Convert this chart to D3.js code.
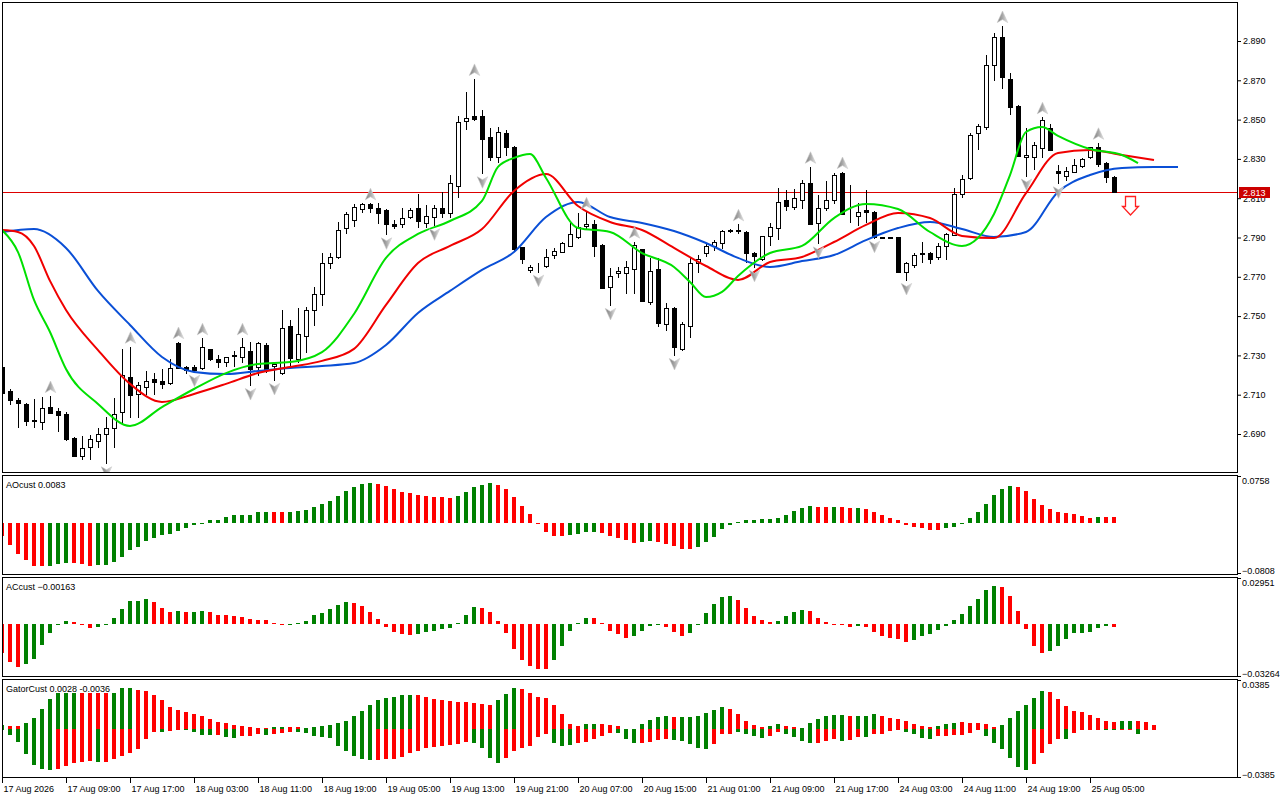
<!DOCTYPE html>
<html>
<head>
<meta charset="utf-8">
<script src="https://cdn.jsdelivr.net/npm/d3@7"></script>
<style>
  body { margin: 0; background: #fff; }
  text { font-family: "Liberation Sans", Arial, sans-serif; font-size: 9px; fill: #000; }
</style>
</head>
<body>
<svg id="chart" width="1280" height="800"></svg>
<script>
// ---- price bars (H1) ----
const opens = [2.7243,2.7119,2.7073,2.7053,2.6971,2.6960,2.7039,2.7019,2.7002,2.6878,
  2.6790,2.6835,2.6866,2.6898,2.6929,2.7010,2.7189,2.7104,2.7138,2.7178,
  2.7168,2.7158,2.7362,2.7241,2.7239,2.7237,2.7331,2.7280,2.7268,2.7302,
  2.7290,2.7321,2.7239,2.7353,2.7246,2.7209,2.7450,2.7280,2.7399,2.7531,
  2.7611,2.7769,2.7799,2.7947,2.7989,2.8045,2.8069,2.8049,2.8040,2.7969,
  2.7967,2.8006,2.8049,2.7975,2.8006,2.8049,2.8026,2.8164,2.8494,2.8518,
  2.8518,2.8410,2.8308,2.8430,2.8359,2.7850,2.7735,2.7753,2.7757,2.7809,
  2.7828,2.7858,2.7904,2.7959,2.7967,2.7862,2.7647,2.7721,2.7718,2.7738,
  2.7840,2.7570,2.7738,2.7458,2.7543,2.7333,2.7450,2.7772,2.7820,2.7858,
  2.7870,2.7933,2.7935,2.7930,2.7820,2.7789,2.7908,2.7947,2.8091,2.8057,
  2.8091,2.8176,2.7975,2.8049,2.8091,2.8230,2.8018,2.8009,2.8040,2.8031,
  2.7901,2.7899,2.7901,2.7726,2.7760,2.7818,2.7820,2.7799,2.7858,2.7913,
  2.8120,2.8201,2.8430,2.8461,2.8778,2.8919,2.8707,2.8569,2.8308,2.8308,
  2.8357,2.8459,2.8238,2.8215,2.8235,2.8265,2.8308,2.8359,2.8278,2.8206];
const highs = [2.7251,2.7127,2.7085,2.7058,2.7077,2.7087,2.7093,2.7031,2.7010,2.6886,
  2.6890,2.6895,2.6929,2.6988,2.7082,2.7331,2.7344,2.7166,2.7221,2.7209,
  2.7231,2.7280,2.7368,2.7246,2.7251,2.7387,2.7333,2.7302,2.7290,2.7324,
  2.7387,2.7367,2.7370,2.7362,2.7261,2.7531,2.7480,2.7543,2.7548,2.7647,
  2.7820,2.7820,2.7977,2.8028,2.8070,2.8074,2.8074,2.8074,2.8045,2.7989,
  2.8049,2.8049,2.8121,2.8065,2.8064,2.8130,2.8218,2.8518,2.8639,2.8707,
  2.8549,2.8456,2.8464,2.8447,2.8366,2.7854,2.7760,2.7769,2.7840,2.7845,
  2.7879,2.7975,2.8023,2.8028,2.7989,2.7867,2.7743,2.7751,2.7780,2.7879,
  2.7841,2.7794,2.7794,2.7565,2.7546,2.7472,2.7802,2.7811,2.7870,2.7887,
  2.7938,2.7941,2.7967,2.7933,2.7826,2.7908,2.7972,2.8153,2.8142,2.8145,
  2.8193,2.8260,2.8116,2.8188,2.8227,2.8233,2.8167,2.8074,2.8142,2.8035,
  2.7905,2.7903,2.7903,2.7777,2.7820,2.7879,2.7826,2.7870,2.7921,2.8150,
  2.8218,2.8433,2.8476,2.8829,2.8942,2.8976,2.8736,2.8572,2.8459,2.8388,
  2.8512,2.8478,2.8269,2.8260,2.8298,2.8303,2.8362,2.8382,2.8286,2.8215];
const lows = [2.7098,2.7051,2.6937,2.6946,2.6934,2.6925,2.7007,2.6917,2.6872,2.6788,
  2.6773,2.6773,2.6835,2.6751,2.6835,2.6963,2.6988,2.6988,2.7104,2.7104,
  2.7136,2.7155,2.7236,2.7209,2.7217,2.7229,2.7277,2.7243,2.7246,2.7246,
  2.7268,2.7149,2.7200,2.7217,2.7175,2.7205,2.7243,2.7268,2.7319,2.7455,
  2.7557,2.7743,2.7796,2.7921,2.7959,2.8031,2.8031,2.7975,2.7916,2.7947,
  2.7955,2.7998,2.7955,2.7955,2.7962,2.8006,2.8006,2.8108,2.8452,2.8500,
  2.8227,2.8294,2.8286,2.8320,2.7836,2.7769,2.7726,2.7726,2.7748,2.7794,
  2.7828,2.7858,2.7899,2.7943,2.7807,2.7645,2.7557,2.7701,2.7619,2.7619,
  2.7578,2.7562,2.7450,2.7429,2.7302,2.7330,2.7395,2.7726,2.7806,2.7836,
  2.7845,2.7928,2.7921,2.7777,2.7751,2.7786,2.7862,2.7891,2.8040,2.8044,
  2.8049,2.7967,2.7870,2.8040,2.8074,2.8018,2.7980,2.7964,2.7980,2.7899,
  2.7897,2.7896,2.7726,2.7684,2.7751,2.7777,2.7769,2.7789,2.7789,2.7913,
  2.8108,2.8196,2.8349,2.8451,2.8702,2.8659,2.8527,2.8315,2.8215,2.8247,
  2.8308,2.8343,2.8176,2.8193,2.8235,2.8260,2.8303,2.8264,2.8184,2.8130];
const closes = [2.7107,2.7073,2.7059,2.6968,2.6968,2.7031,2.7008,2.6998,2.6875,2.6790,
  2.6830,2.6876,2.6898,2.6929,2.7000,2.7200,2.7100,2.7148,2.7168,2.7166,
  2.7155,2.7237,2.7236,2.7227,2.7227,2.7341,2.7280,2.7268,2.7290,2.7299,
  2.7341,2.7229,2.7362,2.7226,2.7254,2.7438,2.7288,2.7407,2.7531,2.7611,
  2.7769,2.7799,2.7938,2.8018,2.8057,2.8069,2.8049,2.8026,2.7967,2.7957,
  2.7998,2.8040,2.7986,2.8009,2.8049,2.8026,2.8176,2.8486,2.8507,2.8503,
  2.8400,2.8308,2.8435,2.8359,2.7840,2.7789,2.7748,2.7757,2.7799,2.7831,
  2.7870,2.7916,2.7955,2.7967,2.7858,2.7645,2.7706,2.7731,2.7748,2.7862,
  2.7578,2.7730,2.7466,2.7540,2.7341,2.7458,2.7769,2.7789,2.7858,2.7879,
  2.7935,2.7936,2.7937,2.7820,2.7807,2.7908,2.7955,2.8082,2.8060,2.8100,
  2.8176,2.7967,2.8049,2.8091,2.8218,2.8018,2.8020,2.8028,2.8028,2.7901,
  2.7899,2.7901,2.7726,2.7769,2.7811,2.7821,2.7789,2.7858,2.7916,2.8120,
  2.8196,2.8422,2.8467,2.8778,2.8919,2.8715,2.8566,2.8316,2.8320,2.8371,
  2.8498,2.8345,2.8227,2.8238,2.8269,2.8298,2.8362,2.8274,2.8206,2.8130];
const lastPrice = 2.813;

// ---- alligator lines (bar index, price) ----
const jawBars = [0,4,8,12,16,20,24,28,32,36,40,44,48,52,56,60,64,68,72,76,80,84,88,92,96,100,104,108,112,116,120,124,128,132,136,140,144,147];
const jawVals = [2.7928,2.7943,2.7847,2.7628,2.7455,2.7292,2.7216,2.7205,2.7221,2.7236,
  2.7246,2.7261,2.7353,2.7516,2.7628,2.7735,2.7826,2.8004,2.8081,2.8004,
  2.7974,2.7933,2.7872,2.7796,2.7750,2.7780,2.7811,2.7887,2.7948,2.7979,
  2.7943,2.7903,2.7928,2.8132,2.8218,2.8254,2.8259,2.8259];
const teethBars = [0,2,4,6,8,12,16,20,24,28,32,36,40,44,48,52,56,60,64,68,72,76,80,84,88,92,96,100,104,108,112,116,120,124,128,132,136,140,144];
const teethVals = [2.7938,2.7928,2.7857,2.7679,2.7531,2.7327,2.7155,2.7063,2.7104,2.7155,
  2.7210,2.7241,2.7272,2.7333,2.7557,2.7770,2.7857,2.7943,2.8137,2.8223,
  2.8060,2.7979,2.7938,2.7847,2.7755,2.7684,2.7775,2.7801,2.7877,2.7964,
  2.8025,2.7999,2.7908,2.7897,2.8126,2.8330,2.8345,2.8320,2.8294];
const lipsBars = [0,2,4,6,8,12,16,20,24,28,32,36,40,44,48,52,56,60,62,64,66,68,72,76,80,84,86,88,90,92,96,100,104,108,112,116,120,124,126,128,130,132,136,140,142];
const lipsVals = [2.7938,2.7826,2.7582,2.7419,2.7231,2.7053,2.6941,2.7037,2.7129,2.7210,
  2.7256,2.7266,2.7317,2.7511,2.7796,2.7918,2.7984,2.8086,2.8259,2.8305,
  2.8325,2.8203,2.7948,2.7928,2.7821,2.7750,2.7674,2.7597,2.7623,2.7704,
  2.7821,2.7857,2.7999,2.8071,2.8045,2.7928,2.7857,2.8020,2.8218,2.8437,
  2.8462,2.8417,2.8350,2.8320,2.8279];

// ---- fractals and signal ----
const upFractals = [6,16,22,25,30,46,59,73,79,92,101,105,125,130,137];
const downFractals = [13,24,31,34,48,54,60,67,76,84,94,102,109,113,128,132];
const sellBar = 141, sellPrice = 2.8111;

// ---- AO ----
const aoVals = [-0.0219,-0.0351,-0.0495,-0.0591,-0.0682,-0.0682,-0.0687,-0.0655,-0.0644,-0.0644,
  -0.0655,-0.0682,-0.0666,-0.0666,-0.0618,-0.0538,-0.0442,-0.0379,-0.0299,-0.0240,
  -0.0196,-0.0181,-0.0128,-0.0091,-0.0037,-0.0016,0.0037,0.0048,0.0085,0.0117,
  0.0128,0.0128,0.0165,0.0165,0.0165,0.0165,0.0165,0.0181,0.0196,0.0244,
  0.0292,0.0351,0.0420,0.0500,0.0564,0.0607,0.0623,0.0607,0.0580,0.0543,
  0.0490,0.0479,0.0442,0.0427,0.0411,0.0411,0.0395,0.0427,0.0495,0.0570,
  0.0602,0.0623,0.0602,0.0532,0.0411,0.0267,0.0134,-0.0011,-0.0144,-0.0212,
  -0.0212,-0.0201,-0.0176,-0.0144,-0.0144,-0.0160,-0.0212,-0.0251,-0.0283,-0.0319,
  -0.0304,-0.0292,-0.0304,-0.0335,-0.0372,-0.0415,-0.0415,-0.0383,-0.0304,-0.0224,
  -0.0107,-0.0032,0.0011,0.0043,0.0043,0.0064,0.0064,0.0075,0.0123,0.0192,
  0.0235,0.0267,0.0251,0.0251,0.0251,0.0251,0.0235,0.0235,0.0219,0.0171,
  0.0123,0.0075,0.0043,-0.0032,-0.0064,-0.0080,-0.0112,-0.0112,-0.0091,-0.0064,
  -0.0016,0.0075,0.0171,0.0299,0.0442,0.0535,0.0586,0.0565,0.0506,0.0379,
  0.0283,0.0219,0.0171,0.0150,0.0139,0.0107,0.0075,0.0091,0.0091,0.0083];
const aoColorRuns = [['r',6],['g',3],['r',3],['g',22],['r',2],['g',11],['r',10],['g',5],['r',9],['g',4],['r',5],['g',2],
  ['r',5],['g',15],['r',2],['g',1],['r',2],['g',1],['r',10],['g',9],['r',10],['g',1],['r',2]];

// ---- AC ----
const acVals = [-0.0182,-0.0233,-0.0264,-0.0249,-0.0214,-0.0131,-0.0055,-0.0006,0.0023,0.0011,
  -0.0006,-0.0021,-0.0017,-0.0006,0.0038,0.0095,0.0146,0.0146,0.0159,0.0139,
  0.0101,0.0076,0.0082,0.0076,0.0076,0.0082,0.0076,0.0057,0.0057,0.0051,
  0.0044,0.0032,0.0025,0.0025,0.0008,-0.0004,0.0004,0.0006,0.0019,0.0057,
  0.0070,0.0095,0.0120,0.0139,0.0133,0.0114,0.0076,0.0032,-0.0017,-0.0051,
  -0.0061,-0.0070,-0.0063,-0.0051,-0.0044,-0.0032,-0.0025,0.0006,0.0057,0.0108,
  0.0101,0.0076,0.0019,-0.0057,-0.0152,-0.0222,-0.0260,-0.0279,-0.0279,-0.0222,
  -0.0133,-0.0044,0.0006,0.0038,0.0038,0.0006,-0.0044,-0.0063,-0.0089,-0.0076,
  -0.0044,-0.0013,-0.0006,-0.0019,-0.0051,-0.0076,-0.0057,-0.0004,0.0070,0.0127,
  0.0171,0.0178,0.0152,0.0101,0.0051,0.0025,0.0013,0.0019,0.0051,0.0076,
  0.0089,0.0082,0.0038,0.0013,-0.0002,-0.0002,-0.0017,-0.0013,-0.0017,-0.0051,
  -0.0076,-0.0089,-0.0095,-0.0108,-0.0101,-0.0076,-0.0063,-0.0038,-0.0013,0.0025,
  0.0063,0.0114,0.0159,0.0216,0.0241,0.0235,0.0178,0.0082,-0.0030,-0.0138,
  -0.0182,-0.0169,-0.0138,-0.0093,-0.0055,-0.0055,-0.0049,-0.0023,-0.0008,-0.00163];
const acColorRuns = [['r',3],['g',6],['r',3],['g',7],['r',3],['g',1],['r',1],['g',2],['r',10],['g',8],['r',8],['g',8],
  ['r',9],['g',5],['r',5],['g',4],['r',3],['g',6],['r',5],['g',4],['r',6],['g',1],['r',6],['g',11],['r',6],['g',8],['r',1]];

// ---- Gator ----
const gatorUp = [0.0024,0.0020,0.0016,0.0042,0.0084,0.0155,0.0226,0.0273,0.0273,0.0273,
  0.0273,0.0273,0.0273,0.0273,0.0273,0.0317,0.0317,0.0299,0.0291,0.0259,
  0.0220,0.0167,0.0147,0.0126,0.0112,0.0097,0.0076,0.0050,0.0042,0.0026,
  0.0016,0.0008,0.0004,0.0004,0.0008,0.0008,0.0008,0.0008,0.0004,0.0008,
  0.0016,0.0024,0.0045,0.0055,0.0097,0.0139,0.0181,0.0220,0.0241,0.0246,
  0.0259,0.0259,0.0259,0.0244,0.0228,0.0218,0.0212,0.0207,0.0204,0.0197,
  0.0189,0.0186,0.0220,0.0267,0.0317,0.0307,0.0273,0.0244,0.0236,0.0186,
  0.0110,0.0034,0.0018,0.0034,0.0034,0.0034,0.0026,0.0016,0.0000,0.0000,
  0.0034,0.0063,0.0089,0.0097,0.0089,0.0089,0.0089,0.0097,0.0120,0.0144,
  0.0167,0.0152,0.0112,0.0057,0.0026,0.0010,0.0018,0.0034,0.0018,0.0010,
  0.0004,0.0042,0.0073,0.0097,0.0105,0.0105,0.0097,0.0097,0.0097,0.0112,
  0.0097,0.0081,0.0073,0.0057,0.0034,0.0018,0.0010,0.0018,0.0034,0.0042,
  0.0050,0.0042,0.0042,0.0034,0.0010,0.0031,0.0081,0.0134,0.0186,0.0241,
  0.0291,0.0281,0.0233,0.0178,0.0139,0.0131,0.0108,0.0079,0.0061,0.0053,
  0.0061,0.0061,0.0061,0.0053,0.0028];
const gatorDown = [-0.0008,-0.0050,-0.0102,-0.0199,-0.0285,-0.0312,-0.0322,-0.0314,-0.0291,-0.0270,
  -0.0259,-0.0252,-0.0262,-0.0259,-0.0241,-0.0212,-0.0189,-0.0157,-0.0084,-0.0024,
  -0.0024,-0.0016,-0.0008,-0.0008,-0.0024,-0.0050,-0.0050,-0.0050,-0.0063,-0.0071,
  -0.0055,-0.0055,-0.0042,-0.0050,-0.0042,-0.0034,-0.0031,-0.0024,-0.0034,-0.0055,
  -0.0063,-0.0071,-0.0134,-0.0173,-0.0212,-0.0236,-0.0244,-0.0244,-0.0241,-0.0241,
  -0.0220,-0.0194,-0.0173,-0.0155,-0.0147,-0.0139,-0.0131,-0.0118,-0.0108,-0.0116,
  -0.0155,-0.0226,-0.0265,-0.0228,-0.0173,-0.0152,-0.0134,-0.0068,-0.0045,-0.0116,
  -0.0139,-0.0131,-0.0116,-0.0108,-0.0079,-0.0061,-0.0037,-0.0037,-0.0079,-0.0116,
  -0.0116,-0.0108,-0.0092,-0.0084,-0.0092,-0.0100,-0.0123,-0.0155,-0.0163,-0.0123,
  -0.0045,-0.0045,-0.0029,-0.0045,-0.0061,-0.0076,-0.0061,-0.0029,-0.0045,-0.0068,
  -0.0100,-0.0116,-0.0116,-0.0100,-0.0084,-0.0100,-0.0092,-0.0068,-0.0068,-0.0045,
  -0.0045,-0.0018,-0.0013,-0.0029,-0.0045,-0.0076,-0.0084,-0.0061,-0.0061,-0.0053,
  -0.0053,-0.0037,-0.0006,-0.0061,-0.0116,-0.0163,-0.0226,-0.0299,-0.0325,-0.0277,
  -0.0189,-0.0120,-0.0079,-0.0079,-0.0034,-0.0008,-0.0008,-0.0008,-0.0008,-0.0013,
  -0.0006,-0.0006,-0.0039,-0.0002,-0.0004];
const gatorUpRuns = [['g',1],['r',2],['g',7],['r',4],['g',3],['r',17],['g',2],['r',2],['g',14],['r',10],['g',3],['r',8],
  ['g',2],['r',4],['g',5],['r',1],['g',6],['r',5],['g',2],['r',2],['g',6],['r',1],['g',3],['r',7],['g',3],['r',5],
  ['g',6],['r',9],['g',2],['r',3]];
const gatorDownRuns = [['g',7],['r',5],['g',1],['r',7],['g',1],['r',2],['g',4],['r',1],['g',2],['r',3],['g',1],['r',3],
  ['g',10],['r',12],['g',4],['r',6],['g',3],['r',5],['g',3],['r',4],['g',5],['r',3],['g',4],['r',2],['g',4],['r',3],
  ['g',1],['r',2],['g',1],['r',4],['g',4],['r',6],['g',6],['r',4],['g',1],['r',4],['g',2],['r',2],['g',1],['r',2]];

// ---- axis labels ----
const priceTicks = [2.690,2.710,2.730,2.750,2.770,2.790,2.810,2.830,2.850,2.870,2.890];
const timeBars = [0,8,16,24,32,40,48,56,64,72,80,88,96,104,112,120,128,136];
const timeLabels = ["17 Aug 2026","17 Aug 09:00","17 Aug 17:00","18 Aug 03:00","18 Aug 11:00","18 Aug 19:00",
  "19 Aug 05:00","19 Aug 13:00","19 Aug 21:00","20 Aug 07:00","20 Aug 15:00","21 Aug 01:00",
  "21 Aug 09:00","21 Aug 17:00","24 Aug 03:00","24 Aug 11:00","24 Aug 19:00","25 Aug 05:00"];

// ------------------------------------------------------------
const GREEN = '#008000', RED = '#ff0000';
const colorOf = c => c === 'g' ? GREEN : RED;
const expand = runs => runs.flatMap(([c, n]) => Array(n).fill(c));

const svg = d3.select('#chart');
const left = 2, right = 1237;

const x = d3.scaleLinear().domain([0, 147]).range([2, 1178]);
const yPrice = d3.scaleLinear().domain([2.690, 2.890]).range([434, 41]);
const yAO = d3.scaleLinear().domain([-0.0808, 0.0758]).range([573.5, 475]);
const yAC = d3.scaleLinear().domain([-0.03264, 0.02951]).range([676.5, 577]);
const yGator = d3.scaleLinear().domain([-0.0385, 0.0385]).range([778, 679]);

const panels = [
  { id: 'main', top: 2, bottom: 473 },
  { id: 'ao', top: 475, bottom: 575 },
  { id: 'ac', top: 577, bottom: 677 },
  { id: 'gator', top: 679, bottom: 778 }
];

const defs = svg.append('defs');
panels.forEach(p => {
  defs.append('clipPath').attr('id', 'clip-' + p.id)
    .append('rect').attr('x', left).attr('y', p.top).attr('width', right - left).attr('height', p.bottom - p.top);
});
const grad = defs.append('linearGradient').attr('id', 'fracGrad').attr('x1', 0).attr('x2', 1).attr('y1', 0).attr('y2', 0);
grad.append('stop').attr('offset', '0%').attr('stop-color', '#7c7c7c');
grad.append('stop').attr('offset', '50%').attr('stop-color', '#a8a8a8');
grad.append('stop').attr('offset', '100%').attr('stop-color', '#e4e4e4');

const px = i => Math.round(x(i));

// ---- main panel ----
const main = svg.append('g').attr('clip-path', 'url(#clip-main)');

// current price line
main.append('line')
  .attr('x1', left).attr('x2', right)
  .attr('y1', Math.round(yPrice(lastPrice)) + 0.5).attr('y2', Math.round(yPrice(lastPrice)) + 0.5)
  .attr('stroke', '#dd0000').attr('stroke-width', 1);

const candles = opens.map((o, i) => ({ i, o, h: highs[i], l: lows[i], c: closes[i] }));

main.append('g').selectAll('line').data(candles).join('line')
  .attr('x1', d => px(d.i) + 0.5).attr('x2', d => px(d.i) + 0.5)
  .attr('y1', d => Math.round(yPrice(d.h))).attr('y2', d => Math.round(yPrice(d.l)) + 1)
  .attr('stroke', '#000').attr('stroke-width', 1).attr('shape-rendering', 'crispEdges');

main.append('g').selectAll('rect').data(candles).join('rect')
  .attr('x', d => px(d.i) - 1.5)
  .attr('width', 4)
  .attr('y', d => Math.round(yPrice(Math.max(d.o, d.c))) + 0.5)
  .attr('height', d => Math.max(0, Math.round(yPrice(Math.min(d.o, d.c))) - Math.round(yPrice(Math.max(d.o, d.c)))))
  .attr('fill', d => d.c < d.o ? '#000' : '#fff')
  .attr('stroke', '#000').attr('stroke-width', 1);

// alligator
const lineGen = d3.line().x(d => x(d[0])).y(d => yPrice(d[1])).curve(d3.curveMonotoneX);
[[jawBars, jawVals, '#0a4fd6'], [teethBars, teethVals, '#f00000'], [lipsBars, lipsVals, '#00e000']]
  .forEach(([bars, vals, col]) => {
    main.append('path')
      .datum(bars.map((b, k) => [b, vals[k]]))
      .attr('fill', 'none').attr('stroke', col).attr('stroke-width', 2)
      .attr('stroke-linejoin', 'round')
      .attr('d', lineGen);
  });

// fractal arrows
main.append('g').selectAll('path').data(upFractals).join('path')
  .attr('transform', i => `translate(${px(i) + 0.5},${yPrice(highs[i]) - 9})`)
  .attr('d', 'M0,-6 L5.2,5.5 L0,2.5 L-5.2,5.5 Z')
  .attr('fill', 'url(#fracGrad)').attr('stroke', '#c8c8c8').attr('stroke-width', 0.6);
main.append('g').selectAll('path').data(downFractals).join('path')
  .attr('transform', i => `translate(${px(i) + 0.5},${yPrice(lows[i]) + 9})`)
  .attr('d', 'M0,6 L5.2,-5.5 L0,-2.5 L-5.2,-5.5 Z')
  .attr('fill', 'url(#fracGrad)').attr('stroke', '#c8c8c8').attr('stroke-width', 0.6);

// sell signal arrow
main.append('path')
  .attr('transform', `translate(${px(sellBar) + 0.5},${Math.round(yPrice(sellPrice)) + 0.5})`)
  .attr('d', 'M-5,0 H5 V10 H8 L0,18.5 L-8,10 H-5 Z')
  .attr('fill', '#fff').attr('stroke', '#ff2020').attr('stroke-width', 1.3);

// price axis
const priceAxis = svg.append('g')
  .attr('transform', `translate(${right},0)`)
  .call(d3.axisRight(yPrice).tickValues(priceTicks).tickSize(4).tickPadding(2).tickFormat(d3.format('.3f')));
priceAxis.select('.domain').remove();
priceAxis.selectAll('text').attr('font-size', null).attr('font-family', null);

// price label (covers the nearest tick label, as on the terminal)
svg.append('rect')
  .attr('x', 1239).attr('y', Math.round(yPrice(lastPrice)) - 5)
  .attr('width', 31).attr('height', 11)
  .attr('fill', '#cc0000');
svg.append('text')
  .attr('x', 1243).attr('y', Math.round(yPrice(lastPrice)) + 4)
  .style('fill', '#fff').text(d3.format('.3f')(lastPrice));

// ---- indicator histograms ----
function histogram(id, yScale, vals, colors) {
  const g = svg.append('g').attr('clip-path', `url(#clip-${id})`);
  const y0 = yScale(0);
  g.selectAll('rect').data(vals).join('rect')
    .attr('x', (v, i) => px(i) - 2)
    .attr('width', 4)
    .attr('y', v => Math.min(y0, yScale(v)))
    .attr('height', v => Math.max(1, Math.abs(yScale(v) - y0)))
    .attr('fill', (v, i) => colorOf(colors[i]))
    .attr('shape-rendering', 'crispEdges');
}
histogram('ao', yAO, aoVals, expand(aoColorRuns));
histogram('ac', yAC, acVals, expand(acColorRuns));
histogram('gator', yGator, gatorUp, expand(gatorUpRuns));
histogram('gator', yGator, gatorDown, expand(gatorDownRuns));

// indicator titles
svg.append('text').attr('x', 6).attr('y', 488).text('AOcust ' + d3.format('.4f')(aoVals[aoVals.length - 1]));
svg.append('text').attr('x', 6).attr('y', 590).text('ACcust ' + d3.format('.5f')(acVals[acVals.length - 1]));
svg.append('text').attr('x', 6).attr('y', 692).text('GatorCust 0.0028 -0.0036');

// indicator scale labels
[[yAO, 0.0758, -0.0808, '.4f'], [yAC, 0.02951, -0.03264, '.5f'], [yGator, 0.0385, -0.0385, '.4f']]
  .forEach(([sc, hi, lo, f]) => {
    const yt = Math.round(sc(hi)) + 0.5, yb = Math.round(sc(lo)) - 0.5;
    svg.append('line').attr('x1', right).attr('x2', right + 4).attr('y1', yt + 1).attr('y2', yt + 1).attr('stroke', '#000');
    svg.append('line').attr('x1', right).attr('x2', right + 4).attr('y1', yb).attr('y2', yb).attr('stroke', '#000');
    svg.append('text').attr('x', right + 5).attr('y', yt + 8.5).text(d3.format(f)(hi));
    svg.append('text').attr('x', right + 5).attr('y', yb + 0.5).text(d3.format(f)(lo));
  });

// ---- frames ----
panels.forEach(p => {
  svg.append('rect')
    .attr('x', left + 0.5).attr('y', p.top + 0.5)
    .attr('width', right - left).attr('height', p.bottom - p.top - 1)
    .attr('fill', 'none').attr('stroke', '#000').attr('stroke-width', 1);
});

// ---- time axis ----
const timeAxis = svg.append('g')
  .attr('transform', 'translate(0,778)')
  .call(d3.axisBottom(x).tickValues(timeBars).tickSize(5).tickPadding(3)
    .tickFormat((d, k) => timeLabels[k]));
timeAxis.select('.domain').remove();
timeAxis.selectAll('text').attr('font-size', null).attr('font-family', null)
  .attr('text-anchor', 'start').attr('x', 1);
</script>
</body>
</html>
